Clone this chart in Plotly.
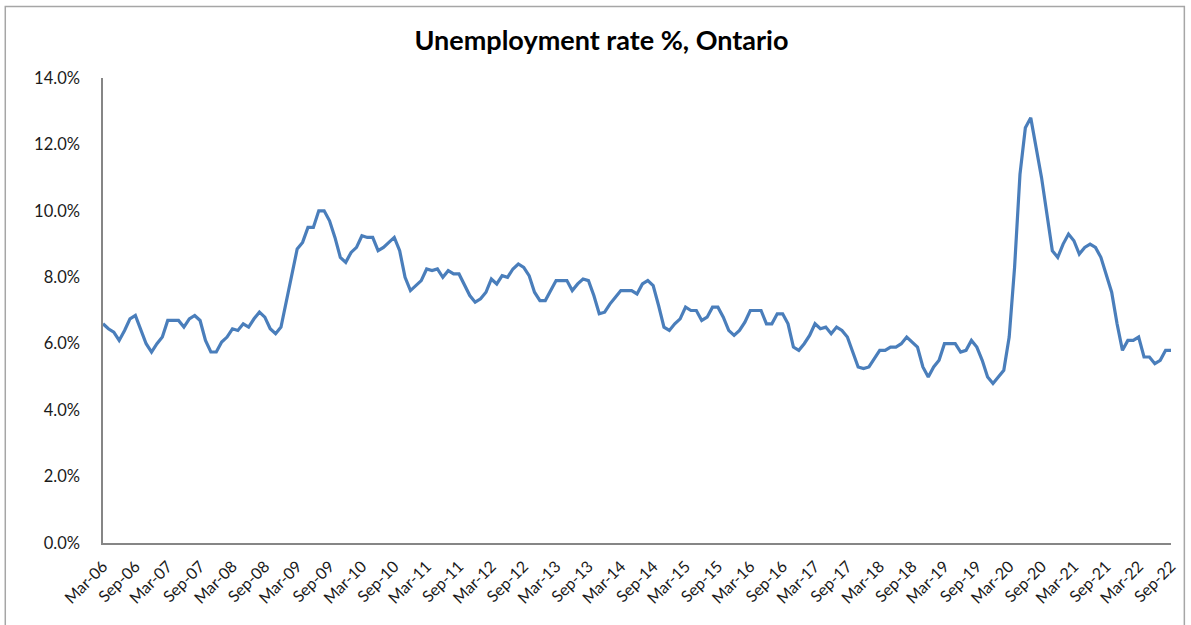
import pandas as pd
import plotly.graph_objects as go

# Monthly unemployment rate (%), Ontario, Mar-06 .. Sep-22
rate_2006_2009 = [6.6, 6.45, 6.35, 6.1, 6.4, 6.75, 6.85, 6.4, 6.0, 5.75,
                  6.0, 6.2, 6.7, 6.7, 6.7, 6.5, 6.75, 6.85, 6.7, 6.1,
                  5.75, 5.75, 6.05, 6.2, 6.45, 6.4, 6.6, 6.5, 6.75, 6.95,
                  6.8, 6.45, 6.3, 6.5, 7.3, 8.0, 8.85, 9.05, 9.5, 9.5,
                  10.0, 10.0, 9.7, 9.2, 8.6, 8.45]
rate_2010_2013 = [8.75, 8.9, 9.25, 9.2, 9.2, 8.8, 8.9, 9.05, 9.2, 8.8,
                  8.0, 7.6, 7.75, 7.9, 8.25, 8.2, 8.25, 8.0, 8.2, 8.1,
                  8.1, 7.8, 7.45, 7.25, 7.35, 7.55, 7.95, 7.8, 8.05, 8.0,
                  8.25, 8.4, 8.3, 8.05, 7.55, 7.3, 7.3, 7.6, 7.9, 7.9,
                  7.9, 7.6, 7.8, 7.95, 7.9, 7.45, 6.9, 6.95]
rate_2014_2017 = [7.2, 7.4, 7.6, 7.6, 7.6, 7.5, 7.8, 7.9, 7.75, 7.15,
                  6.5, 6.4, 6.6, 6.75, 7.1, 7.0, 7.0, 6.7, 6.8, 7.1,
                  7.1, 6.8, 6.4, 6.25, 6.4, 6.65, 7.0, 7.0, 7.0, 6.6,
                  6.6, 6.9, 6.9, 6.6, 5.9, 5.8, 6.0, 6.25, 6.6, 6.45,
                  6.5, 6.3, 6.5, 6.4, 6.2, 5.75, 5.3, 5.25]
rate_2018_2022 = [5.3, 5.55, 5.8, 5.8, 5.9, 5.9, 6.0, 6.2, 6.05, 5.9,
                  5.3, 5.0, 5.3, 5.5, 6.0, 6.0, 6.0, 5.75, 5.8, 6.1,
                  5.9, 5.5, 5.0, 4.8, 5.0, 5.2, 6.2, 8.3, 11.1, 12.5,
                  12.8, 11.9, 11.0, 9.9, 8.8, 8.6, 9.0, 9.3, 9.1, 8.7,
                  8.9, 9.0, 8.9, 8.6, 8.1, 7.55, 6.6, 5.8, 6.1, 6.1,
                  6.2, 5.6, 5.6, 5.4, 5.5, 5.8, 5.8]

rates = rate_2006_2009 + rate_2010_2013 + rate_2014_2017 + rate_2018_2022
months = [d.strftime("%b-%y") for d in pd.date_range("2006-03-01", periods=len(rates), freq="MS")]
tick_labels = months[::6]

y_ticks = [0, 2, 4, 6, 8, 10, 12, 14]
y_tick_labels = [f"{v:.1f}%" for v in y_ticks]

fig = go.Figure()
fig.add_trace(go.Scatter(
    x=months, y=rates, mode="lines",
    line=dict(color="#4a7ebb", width=3.2),
    showlegend=False,
))

axis_col = "#868686"
fig.update_layout(
    width=1191, height=625,
    margin=dict(l=103, r=16, t=78, b=82),
    paper_bgcolor="white", plot_bgcolor="white",
    font=dict(family="Lato, 'Open Sans', sans-serif", size=16, color="#1a1a1a"),
    title=dict(text="<b>Unemployment rate %, Ontario</b>",
               x=0.505, xanchor="center", y=0.935, yanchor="middle",
               font=dict(size=27, color="#000000")),
    xaxis=dict(
        type="category", range=[0, len(rates) - 1],
        tickmode="array", tickvals=tick_labels, ticktext=tick_labels,
        tickangle=-45, showgrid=False, zeroline=False,
        showline=True, linecolor=axis_col, linewidth=1.5,
        ticks="", ticklabelstandoff=6, tickfont=dict(size=16),
    ),
    yaxis=dict(
        range=[0, 14], tickvals=y_ticks, ticktext=y_tick_labels,
        showgrid=False, zeroline=False,
        showline=True, linecolor=axis_col, linewidth=1.5,
        ticks="", ticklabelstandoff=18, tickfont=dict(size=16.5),
    ),
    shapes=[dict(type="rect", xref="paper", yref="paper",
                 x0=-0.0915, x1=1.0125, y0=-0.2, y1=1.154,
                 line=dict(color="#a6a6a6", width=1.5), fillcolor="rgba(0,0,0,0)",
                 layer="below")],
)

fig.write_html("out.html", config={"displayModeBar": False},
               post_script="document.body.style.margin='0';")
